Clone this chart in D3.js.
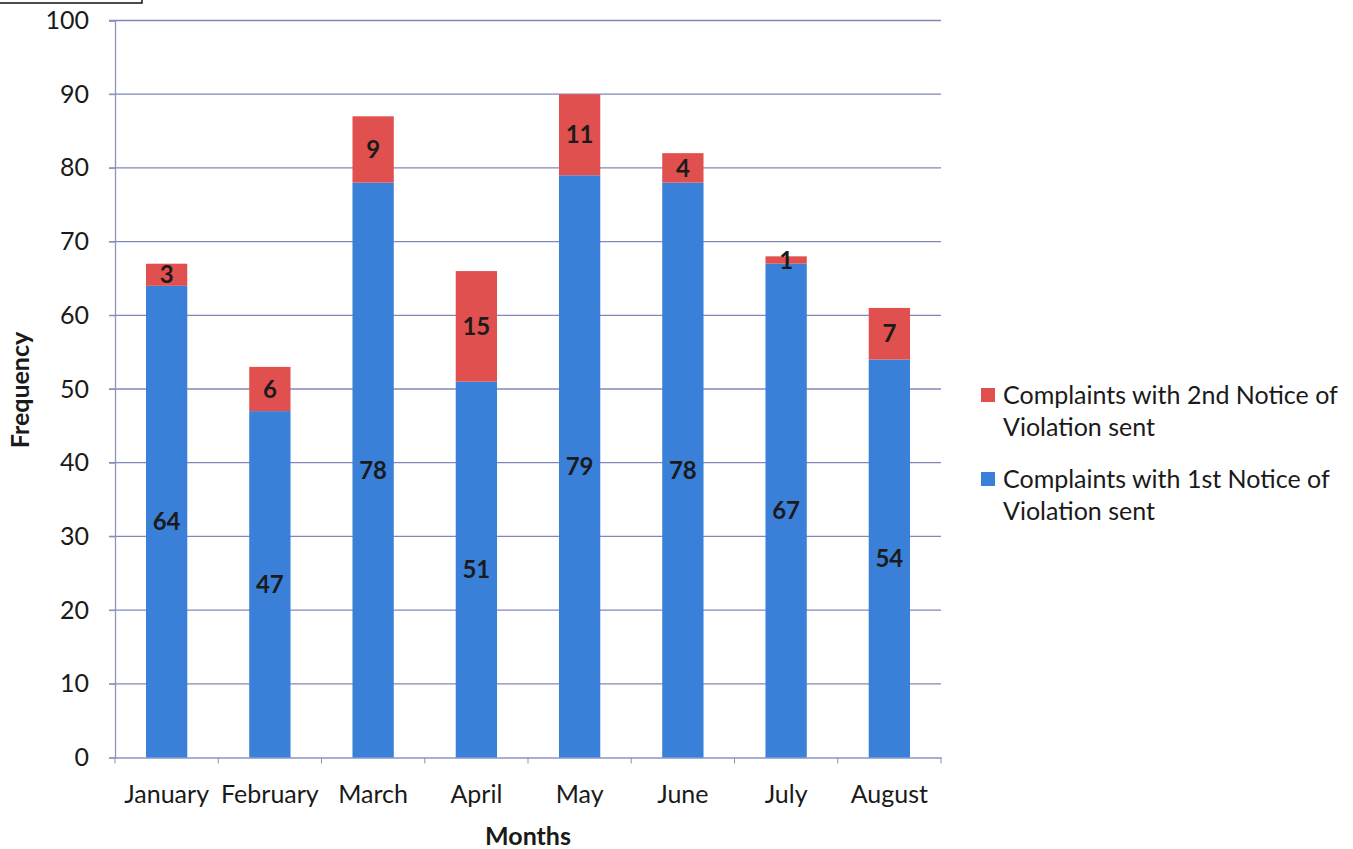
<!DOCTYPE html>
<html>
<head>
<meta charset="utf-8">
<script src="https://cdn.jsdelivr.net/npm/d3@7"></script>
<style>
  body { margin: 0; background: #fff; }
  svg { font-family: Lato, "Open Sans", sans-serif; }
</style>
</head>
<body>
<svg id="chart"></svg>
<script>
const months = ['January', 'February', 'March', 'April', 'May', 'June', 'July', 'August'];
const firstNotice = [64, 47, 78, 51, 79, 78, 67, 54];
const secondNotice = [3, 6, 9, 15, 11, 4, 1, 7];
const yTicks = [0, 10, 20, 30, 40, 50, 60, 70, 80, 90, 100];
const legendItems = [
    {name: ['Complaints with 2nd Notice of', 'Violation sent'], color: '#e0504e'},
    {name: ['Complaints with 1st Notice of', 'Violation sent'], color: '#3a80d8'}
];

const width = 1353;
const height = 849;
const plotLeft = 115, plotRight = 941, plotTop = 20.5, plotBottom = 757.5;

const svg = d3.select('#chart')
    .attr('width', width)
    .attr('height', height);

// little box cut off at the top left corner
svg.append('rect')
    .attr('x', -2).attr('y', -20)
    .attr('width', 144).attr('height', 23)
    .attr('fill', 'none')
    .attr('stroke', '#111')
    .attr('stroke-width', 1.5);

const x = d3.scaleBand().domain(months).range([plotLeft, plotRight]);
const y = d3.scaleLinear().domain([0, 100]).range([plotBottom, plotTop]);

// gridlines
svg.append('g')
    .selectAll('line').data(yTicks.filter(d => d > 0))
    .enter().append('line')
    .attr('x1', plotLeft - 6).attr('x2', plotRight)
    .attr('y1', d => y(d)).attr('y2', d => y(d))
    .attr('stroke', '#7f88b8')
    .attr('stroke-width', 1.3);

// y axis
const yAxis = svg.append('g')
    .attr('transform', `translate(${plotLeft}, 0)`)
    .call(d3.axisLeft(y).tickValues(yTicks).tickSize(6).tickPadding(20));
yAxis.select('.domain').attr('stroke', '#8a93c0').attr('stroke-width', 1.3);
yAxis.selectAll('.tick line').attr('stroke', '#8a93c0');
yAxis.selectAll('.tick text')
    .attr('font-size', 25)
    .attr('fill', '#1a1a1a')
    .attr('font-family', 'Lato, sans-serif');

// x axis
const xAxis = svg.append('g')
    .attr('transform', `translate(0, ${plotBottom})`)
    .call(d3.axisBottom(x).tickSize(0).tickPadding(28));
xAxis.select('.domain').attr('stroke', '#8a93c0').attr('stroke-width', 1.3);
xAxis.selectAll('.tick text')
    .attr('font-size', 25)
    .attr('fill', '#1a1a1a')
    .attr('font-family', 'Lato, sans-serif');
xAxis.selectAll('.sep').data(months.concat(['end']))
    .enter().append('line')
    .attr('x1', (d, i) => plotLeft + i * x.step())
    .attr('x2', (d, i) => plotLeft + i * x.step())
    .attr('y1', 0).attr('y2', 6)
    .attr('stroke', '#8a93c0');

const barW = x.bandwidth() * 0.4;
const barX = d => x(d) + (x.bandwidth() - barW) / 2;

const rows = months.map((m, i) => ({month: m, first: firstNotice[i], second: secondNotice[i]}));

// blue segments
svg.append('g').selectAll('rect').data(rows)
    .enter().append('rect')
    .attr('x', d => barX(d.month))
    .attr('y', d => y(d.first))
    .attr('width', barW)
    .attr('height', d => y(0) - y(d.first))
    .attr('fill', legendItems[1].color);

// red segments
svg.append('g').selectAll('rect').data(rows)
    .enter().append('rect')
    .attr('x', d => barX(d.month))
    .attr('y', d => y(d.first + d.second))
    .attr('width', barW)
    .attr('height', d => y(d.first) - y(d.first + d.second))
    .attr('fill', legendItems[0].color);

// value labels
const labels = svg.append('g')
    .attr('font-size', 24)
    .attr('font-weight', 'bold')
    .attr('fill', '#1b1b1b')
    .attr('text-anchor', 'middle');
labels.selectAll('.lb').data(rows)
    .enter().append('text')
    .attr('x', d => x(d.month) + x.bandwidth() / 2)
    .attr('y', d => y(d.first / 2))
    .attr('dy', '0.36em')
    .text(d => d.first);
labels.selectAll('.lr').data(rows)
    .enter().append('text')
    .attr('x', d => x(d.month) + x.bandwidth() / 2)
    .attr('y', d => y(d.first + d.second / 2))
    .attr('dy', '0.36em')
    .text(d => d.second);

// axis titles
svg.append('text')
    .attr('transform', 'translate(29, 390) rotate(-90)')
    .attr('text-anchor', 'middle')
    .attr('font-size', 25)
    .attr('font-weight', 'bold')
    .attr('fill', '#1a1a1a')
    .text('Frequency');

svg.append('text')
    .attr('x', 528).attr('y', 845)
    .attr('text-anchor', 'middle')
    .attr('font-size', 25)
    .attr('font-weight', 'bold')
    .attr('fill', '#1a1a1a')
    .text('Months');

// legend
const legend = svg.append('g').attr('transform', 'translate(981, 388)');
legendItems.forEach((item, i) => {
    const g = legend.append('g').attr('transform', `translate(0, ${i * 84})`);
    g.append('rect')
        .attr('width', 14).attr('height', 14)
        .attr('fill', item.color);
    item.name.forEach((line, j) => {
        g.append('text')
            .attr('x', 22).attr('y', 7 + j * 32)
            .attr('dy', '0.36em')
            .attr('font-size', 25)
            .attr('fill', '#1a1a1a')
            .text(line);
    });
});
</script>
</body>
</html>
